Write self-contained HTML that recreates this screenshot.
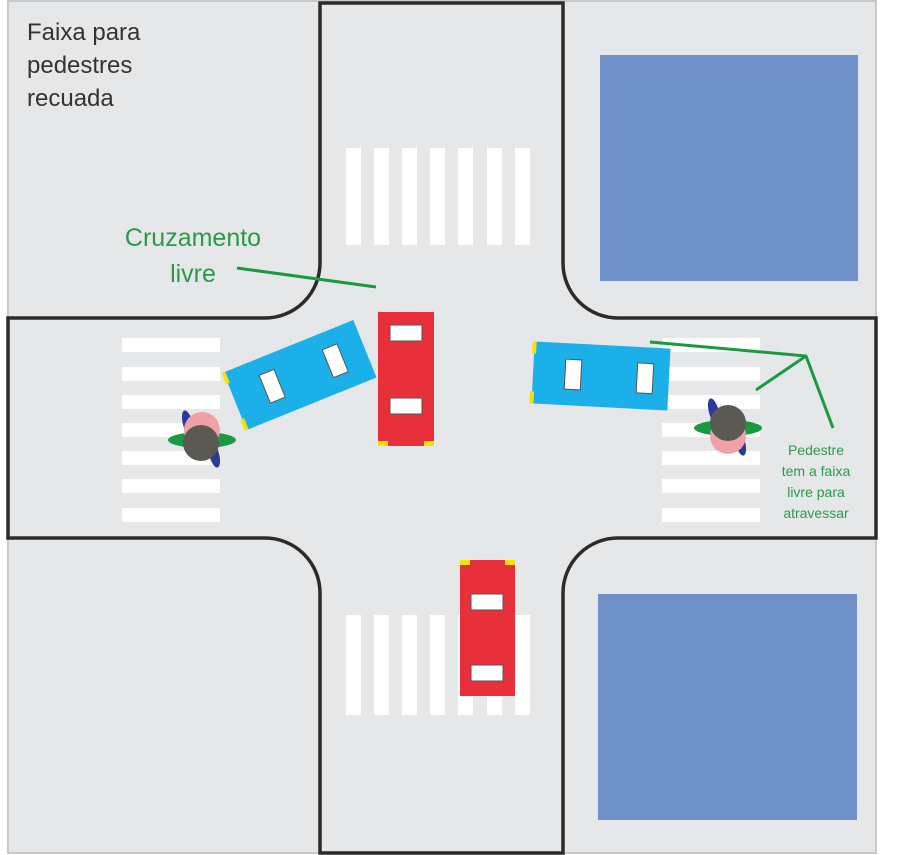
<!DOCTYPE html>
<html><head><meta charset="utf-8"><style>html,body{margin:0;padding:0;background:#fff}svg{display:block}</style></head>
<body>
<svg width="900" height="855" viewBox="0 0 900 855" xmlns="http://www.w3.org/2000/svg" font-family="Liberation Sans, sans-serif">
<rect x="0" y="0" width="900" height="855" fill="#fff"/>
<rect x="8" y="1" width="868" height="852" fill="#e6e7e9" stroke="#c8c9cb" stroke-width="2"/>
<g fill="none" stroke="#2b2b2b" stroke-width="3.5">
<path d="M8 318 H265 A55 55 0 0 0 320 263 V3 H563 V263 A55 55 0 0 0 618 318 H876 V538 H618 A55 55 0 0 0 563 593 V853 H320 V593 A55 55 0 0 0 265 538 H8 Z"/>
</g>
<rect x="600" y="55" width="258" height="226" fill="#7090c8"/>
<rect x="598" y="594" width="259" height="226" fill="#7090c8"/>
<g fill="#fff">
<rect x="346" y="148" width="15" height="97"/><rect x="374" y="148" width="15" height="97"/><rect x="402" y="148" width="15" height="97"/><rect x="430" y="148" width="15" height="97"/><rect x="458" y="148" width="15" height="97"/><rect x="487" y="148" width="15" height="97"/><rect x="515" y="148" width="15" height="97"/>
<rect x="346" y="615" width="15" height="100"/><rect x="374" y="615" width="15" height="100"/><rect x="402" y="615" width="15" height="100"/><rect x="430" y="615" width="15" height="100"/><rect x="458" y="615" width="15" height="100"/><rect x="487" y="615" width="15" height="100"/><rect x="515" y="615" width="15" height="100"/>
<rect x="122" y="338" width="98" height="14"/><rect x="122" y="367" width="98" height="14"/><rect x="122" y="395" width="98" height="14"/><rect x="122" y="423" width="98" height="14"/><rect x="122" y="451" width="98" height="14"/><rect x="122" y="479" width="98" height="14"/><rect x="122" y="508" width="98" height="14"/>
<rect x="662" y="338" width="98" height="14"/><rect x="662" y="367" width="98" height="14"/><rect x="662" y="395" width="98" height="14"/><rect x="662" y="423" width="98" height="14"/><rect x="662" y="451" width="98" height="14"/><rect x="662" y="479" width="98" height="14"/><rect x="662" y="508" width="98" height="14"/>
</g>
<!-- red car top -->
<rect x="378" y="312" width="56" height="134" fill="#e8303a"/>
<rect x="378" y="441" width="10" height="5" fill="#f5e400"/><rect x="424" y="441" width="10" height="5" fill="#f5e400"/>
<rect x="390" y="325" width="32" height="16" fill="#fff" stroke="#555"/><rect x="390" y="398" width="32" height="16" fill="#fff" stroke="#555"/>
<!-- red car bottom -->
<rect x="460" y="560" width="55" height="136" fill="#e8303a"/>
<rect x="460" y="560" width="10" height="5" fill="#f5e400"/><rect x="505" y="560" width="10" height="5" fill="#f5e400"/>
<rect x="471" y="594" width="32" height="16" fill="#fff" stroke="#555"/><rect x="471" y="665" width="32" height="16" fill="#fff" stroke="#555"/>
<!-- blue car left -->
<g transform="translate(300,375) rotate(-22)">
<rect x="-70" y="-31" width="140" height="62" fill="#1cb0ea"/>
<rect x="-72" y="-31" width="4" height="12" fill="#f5e400"/><rect x="-72" y="19" width="4" height="12" fill="#f5e400"/>
<rect x="-38" y="-15" width="16" height="30" fill="#fff" stroke="#555"/><rect x="30" y="-15" width="16" height="30" fill="#fff" stroke="#555"/>
</g>
<!-- blue car right -->
<g transform="translate(601,376) rotate(3)">
<rect x="-68" y="-31" width="136" height="62" fill="#1cb0ea"/>
<rect x="-70" y="-31" width="4" height="12" fill="#f5e400"/><rect x="-70" y="19" width="4" height="12" fill="#f5e400"/>
<rect x="-36" y="-15" width="16" height="30" fill="#fff" stroke="#555"/><rect x="36" y="-15" width="16" height="30" fill="#fff" stroke="#555"/>
</g>
<!-- pedestrians -->
<g transform="translate(202,440)">
<ellipse cx="0" cy="0" rx="34" ry="8" fill="#1a9a40"/>
<ellipse cx="-14" cy="-16" rx="5" ry="14" fill="#2a3a9a" transform="rotate(-15 -14 -16)"/>
<ellipse cx="12" cy="14" rx="5" ry="14" fill="#2a3a9a" transform="rotate(-15 12 14)"/>
<circle cx="0" cy="-10" r="18" fill="#f0a0a8"/>
<circle cx="-1" cy="3" r="18" fill="#5a5a52"/>
</g>
<g transform="translate(728,428)">
<ellipse cx="0" cy="0" rx="34" ry="8" fill="#1a9a40"/>
<ellipse cx="-14" cy="-16" rx="5" ry="14" fill="#2a3a9a" transform="rotate(-15 -14 -16)"/>
<ellipse cx="12" cy="14" rx="5" ry="14" fill="#2a3a9a" transform="rotate(-15 12 14)"/>
<circle cx="0" cy="8" r="18" fill="#f0a0a8"/>
<circle cx="0" cy="-5" r="18" fill="#5a5a52"/>
</g>
<!-- green lines -->
<g stroke="#1a9a40" stroke-width="3" fill="none">
<line x1="237" y1="268" x2="376" y2="287"/>
<polyline points="650,342 806,356 833,428"/>
<line x1="806" y1="356" x2="756" y2="390"/>
</g>
<g fill="#333" font-size="24"><text x="27" y="40">Faixa para</text><text x="27" y="73">pedestres</text><text x="27" y="106">recuada</text></g>
<g fill="#2a9a4a" font-size="25" text-anchor="middle"><text x="193" y="246">Cruzamento</text><text x="193" y="282">livre</text></g>
<g fill="#2a9a4a" font-size="14" text-anchor="middle"><text x="816" y="455">Pedestre</text><text x="816" y="476">tem a faixa</text><text x="816" y="497">livre para</text><text x="816" y="518">atravessar</text></g>
</svg>
</body></html>
